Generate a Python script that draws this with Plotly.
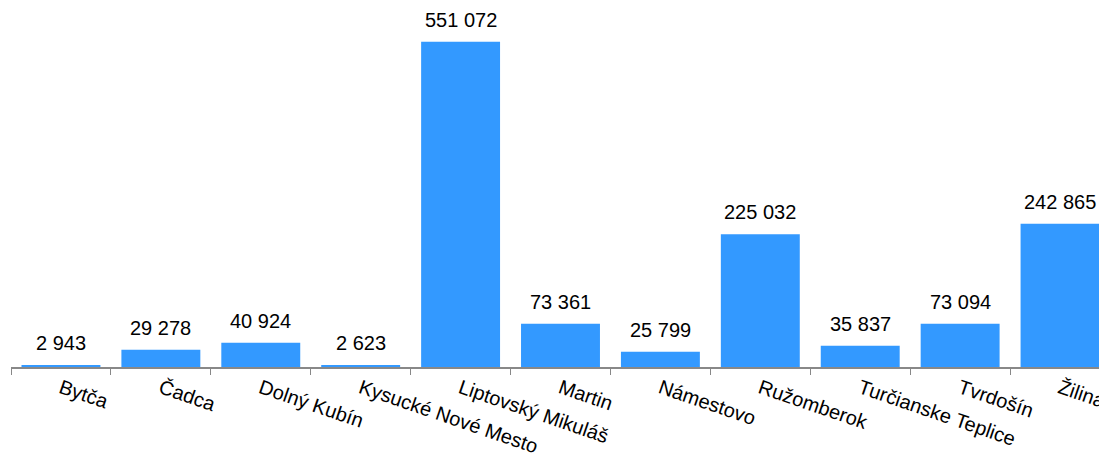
import plotly.graph_objects as go

categories = ["Bytča", "Čadca", "Dolný Kubín", "Kysucké Nové Mesto", "Liptovský Mikuláš",
              "Martin", "Námestovo", "Ružomberok", "Turčianske Teplice", "Tvrdošín", "Žilina"]
values = [2943, 29278, 40924, 2623, 551072, 73361, 25799, 225032, 35837, 73094, 242865]
labels = [f"{v:,}".replace(",", " ") for v in values]

fig = go.Figure()
fig.add_trace(go.Bar(x=categories, y=values, marker=dict(color="#3399FF", line=dict(width=0)),
                     hoverinfo="x+y"))
for c, v, t in zip(categories, values, labels):
    fig.add_annotation(x=c, y=v, text=t, showarrow=False, yanchor="bottom", yshift=9,
                       font=dict(size=20, color="#000000", family="Liberation Sans, Arial"))

fig.update_layout(
    width=1099, height=446,
    margin=dict(l=3, r=0, t=5, b=87, autoexpand=False),
    paper_bgcolor="white", plot_bgcolor="white",
    bargap=0.21, showlegend=False,
    font=dict(family="Liberation Sans, Arial", size=20, color="#000000"),
)
fig.update_xaxes(type="category", range=[-0.5, 10.47], tickson="boundaries", ticks="outside",
                 ticklen=6, tickcolor="#888888", showline=True, linecolor="#888888", linewidth=2,
                 tickangle=19, showgrid=False, automargin=False,
                 tickfont=dict(size=20, color="#000000"))
fig.update_yaxes(range=[0, 600000], visible=False, showgrid=False, automargin=False)

fig.write_html("out.html")
